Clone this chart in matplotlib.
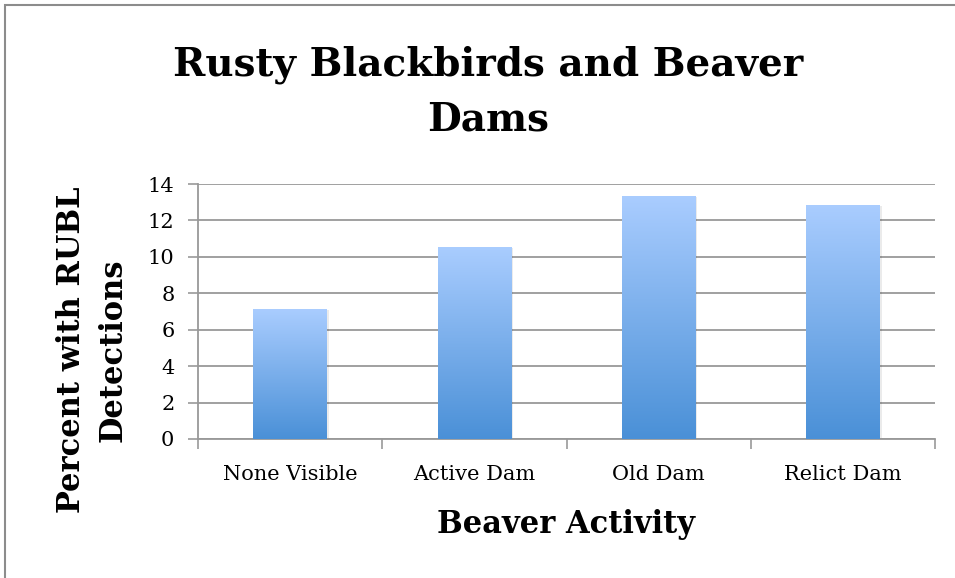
import numpy as np
import matplotlib
matplotlib.use("Agg")
import matplotlib.pyplot as plt
from matplotlib.colors import LinearSegmentedColormap
from matplotlib.patches import Rectangle

categories = ["None Visible", "Active Dam", "Old Dam", "Relict Dam"]
percent = [7.14, 10.55, 13.35, 12.85]
yticks = [0, 2, 4, 6, 8, 10, 12, 14]

serif = ["DejaVu Serif"]

fig = plt.figure(figsize=(9.55, 5.78), dpi=100)
ax = fig.add_axes([198 / 955, 1 - 439 / 578, (935 - 198) / 955, (439 - 184) / 578])

# outer chart border (top and left visible)
fig.patches.append(Rectangle((5 / 955, -0.1), 1.2, (573 / 578) + 0.1, transform=fig.transFigure,
                             fill=False, edgecolor="#8c8c8c", linewidth=1.5))

cmap = LinearSegmentedColormap.from_list("grad", ["#4a90d7", "#aacdff"])
grad = np.linspace(0, 1, 256).reshape(-1, 1)

x = np.arange(len(categories))
width = 0.40
bars = ax.bar(x, percent, width=width, color="none", zorder=3)
for b in bars:
    x0, y0 = b.get_x(), b.get_y()
    w, h = b.get_width(), b.get_height()
    # soft shadow
    ax.add_patch(Rectangle((x0 + 0.01, y0), w, h - 0.05, facecolor="#000000", alpha=0.08,
                           edgecolor="none", zorder=2.5))
    im = ax.imshow(grad, extent=[x0, x0 + w, y0, y0 + h], origin="lower", cmap=cmap,
                   aspect="auto", zorder=3)
    im.set_clip_path(b)

ax.set_xlim(-0.5, len(categories) - 0.5)
ax.set_ylim(0, 14)
ax.set_yticks(yticks)
ax.set_yticklabels([str(t) for t in yticks], fontfamily=serif, fontsize=15)
ax.set_xticks(x)
ax.set_xticklabels(categories, fontfamily=serif, fontsize=15)
ax.tick_params(axis="x", length=0, pad=19)
ax.tick_params(axis="y", length=7, color="#999999", width=1.2, pad=10)

# category boundary ticks on x axis
ax.set_xticks(np.arange(-0.5, len(categories)), minor=True)
ax.tick_params(axis="x", which="minor", length=7, color="#999999", width=1.2)

ax.grid(axis="y", color="#999999", linewidth=1.3, zorder=0)
ax.set_axisbelow(True)
for s in ["top", "right"]:
    ax.spines[s].set_visible(False)
ax.spines["left"].set_color("#999999")
ax.spines["left"].set_linewidth(1.3)
ax.spines["bottom"].set_color("#999999")
ax.spines["bottom"].set_linewidth(1.3)

fig.text(566 / 955, 1 - 525 / 578, "Beaver Activity", ha="center", va="center",
         fontfamily=serif, fontweight="bold", fontsize=22)
fig.text(92 / 955, 1 - 350 / 578, "Percent with RUBL\nDetections", ha="center", va="center",
         rotation=90, fontfamily=serif, fontweight="bold", fontsize=22, linespacing=1.43)

fig.text(488 / 955, 1 - 92 / 578, "Rusty Blackbirds and Beaver\nDams", ha="center", va="center",
         fontfamily=serif, fontweight="bold", fontsize=28, linespacing=1.58)

fig.savefig("out.png", dpi=100, facecolor="white")
